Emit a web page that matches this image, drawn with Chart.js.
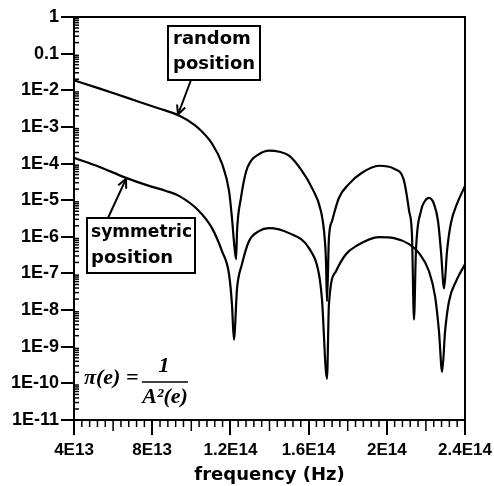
<!DOCTYPE html>
<html>
<head>
<meta charset="utf-8">
<script src="https://cdn.jsdelivr.net/npm/chart.js@4/dist/chart.umd.min.js"></script>
<style>
  html, body { margin: 0; padding: 0; background: #fff; }
  #c { display: block; }
</style>
</head>
<body>
<canvas id="c" width="494" height="486"></canvas>
<script>
// ---- data ----
const randomFreq = [4.00e13, 5.28e13, 6.81e13, 8.35e13, 9.37e13, 10.14e13, 10.50e13, 11.06e13, 11.57e13, 11.93e13,
  12.08e13, 12.18e13, 12.29e13, 12.34e13, 12.54e13, 12.80e13, 13.06e13, 13.46e13, 13.97e13, 14.50e13, 15.00e13, 15.66e13,
  16.17e13, 16.63e13, 16.79e13, 16.89e13, 16.94e13, 17.04e13, 17.20e13, 17.55e13, 18.07e13, 18.73e13,
  19.60e13, 20.37e13, 20.88e13, 21.14e13, 21.29e13, 21.39e13, 21.49e13, 21.75e13, 21.95e13, 22.16e13,
  22.41e13, 22.62e13, 22.77e13, 22.93e13, 23.08e13, 23.28e13, 23.59e13, 24.00e13];
const randomValues = [1.87e-2, 1.13e-2, 6.0e-3, 3.19e-3, 2.05e-3, 1.16e-3, 7.9e-4, 3.49e-4, 9.9e-5, 1.79e-5,
  3.26e-6, 7.6e-7, 2.44e-7, 1.43e-6, 1.15e-5, 6.0e-5, 1.2e-4, 1.8e-4, 2.24e-4, 2.1e-4, 1.64e-4, 6.3e-5,
  2.17e-5, 5.1e-6, 1.43e-6, 2.15e-7, 1.72e-8, 9.2e-7, 2.7e-6, 1.15e-5, 2.79e-5, 5.6e-5,
  8.7e-5, 7.2e-5, 3.37e-5, 5.1e-6, 1.05e-6, 5.5e-9, 4.05e-7, 5.1e-6, 9.5e-6, 1.15e-5,
  7.9e-6, 2.7e-6, 4.05e-7, 3.9e-8, 4.05e-7, 2.38e-6, 7.9e-6, 2.46e-5];

const symFreq = [4.00e13, 5.28e13, 6.66e13, 7.84e13, 8.71e13, 9.37e13, 10.39e13, 11.06e13, 11.57e13, 11.93e13,
  12.08e13, 12.18e13, 12.34e13, 12.59e13, 12.95e13, 13.46e13, 13.97e13, 15.00e13, 16.02e13, 16.53e13,
  16.68e13, 16.94e13, 17.04e13, 17.40e13, 17.91e13, 18.43e13, 19.60e13, 20.37e13, 21.14e13, 21.65e13,
  22.16e13, 22.47e13, 22.67e13, 22.83e13, 22.98e13, 23.18e13, 23.54e13, 24.00e13];
const symValues = [1.44e-4, 8.2e-5, 4.07e-5, 2.46e-5, 1.79e-5, 1.31e-5, 5.1e-6, 1.73e-6, 4.05e-7, 9.5e-8,
  1.43e-8, 1.56e-9, 3.9e-8, 1.78e-7, 7.6e-7, 1.43e-6, 1.73e-6, 1.26e-6, 4.9e-7, 9.5e-8,
  2.08e-8, 1.33e-10, 1.43e-8, 1.15e-7, 3.35e-7, 5.6e-7, 9.8e-7, 9.2e-7, 6.3e-7, 3.57e-7,
  1.15e-7, 2.36e-8, 2.59e-9, 2.07e-10, 2.59e-9, 1.72e-8, 6.1e-8, 1.78e-7];

const xTickValues = [4e13, 8e13, 1.2e14, 1.6e14, 2e14, 2.4e14];
const xTickLabels = ["4E13", "8E13", "1.2E14", "1.6E14", "2E14", "2.4E14"];
const yTickValues = [1, 0.1, 1e-2, 1e-3, 1e-4, 1e-5, 1e-6, 1e-7, 1e-8, 1e-9, 1e-10, 1e-11];
const yTickLabels = ["1", "0.1", "1E-2", "1E-3", "1E-4", "1E-5", "1E-6", "1E-7", "1E-8", "1E-9", "1E-10", "1E-11"];
const xTitle = "frequency (Hz)";
const randomLabel = ["random", "position"];
const symLabel = ["symmetric", "position"];
// arrows point at these curve samples (indices into the series above)
const randomArrowIdx = 4;
const symArrowIdx = 2;

const toPts = (xs, ys) => xs.map((x, i) => ({ x: x, y: ys[i] }));

function lookup(vals, labels, v, log) {
  for (let i = 0; i < vals.length; i++) {
    const a = log ? Math.log10(vals[i]) : vals[i] / 1e13;
    const b = log ? Math.log10(v) : v / 1e13;
    if (Math.abs(a - b) < 1e-6) return labels[i];
  }
  return '';
}

const X_FONT = { family: "'Liberation Sans', Arial, sans-serif", size: 17, weight: 'bold' };
const Y_FONT = { family: "'Liberation Sans', Arial, sans-serif", size: 18, weight: 'bold' };

function arrow(ctx, x1, y1, x2, y2) {
  ctx.beginPath();
  ctx.moveTo(x1, y1);
  ctx.lineTo(x2, y2);
  ctx.stroke();
  const ang = Math.atan2(y2 - y1, x2 - x1);
  const L = 10, W = 0.45;
  ctx.beginPath();
  ctx.moveTo(x2 - L * Math.cos(ang - W), y2 - L * Math.sin(ang - W));
  ctx.lineTo(x2, y2);
  ctx.lineTo(x2 - L * Math.cos(ang + W), y2 - L * Math.sin(ang + W));
  ctx.stroke();
}

const decor = {
  id: 'decor',
  afterDraw(chart) {
    const ctx = chart.ctx;
    const a = chart.chartArea;
    const xs = chart.scales.x, ys = chart.scales.y;
    ctx.save();
    ctx.strokeStyle = '#000';
    ctx.fillStyle = '#000';
    // frame
    ctx.lineWidth = 2;
    ctx.strokeRect(a.left, a.top, a.right - a.left, a.bottom - a.top);
    // y minor ticks (log 2..9)
    ctx.lineWidth = 1.5;
    for (let d = -11; d < 0; d++) {
      for (let k = 2; k <= 9; k++) {
        const y = ys.getPixelForValue(k * Math.pow(10, d));
        ctx.beginPath();
        ctx.moveTo(a.left - 1, y);
        ctx.lineTo(a.left + 5, y);
        ctx.stroke();
      }
    }
    // x minor ticks
    for (let i = 1; i < 50; i++) {
      if (i % 10 === 0) continue;
      const f = 4e13 + i * 4e12;
      const x = xs.getPixelForValue(f);
      const len = (i % 5 === 0) ? 11 : 7;
      ctx.beginPath();
      ctx.moveTo(x, a.bottom);
      ctx.lineTo(x, a.bottom + len);
      ctx.stroke();
    }
    // label boxes
    ctx.lineWidth = 2;
    ctx.font = "bold 18px 'DejaVu Sans', sans-serif";
    ctx.textBaseline = 'middle';
    ctx.textAlign = 'left';
    ctx.strokeRect(168, 26, 92, 54);
    ctx.fillText(randomLabel[0], 173, 39, 84);
    ctx.fillText(randomLabel[1], 173, 64, 84);
    ctx.strokeRect(87, 218, 108, 55);
    ctx.fillText(symLabel[0], 91, 232, 101);
    ctx.fillText(symLabel[1], 91, 258, 101);
    // arrows to the curves
    const rx = xs.getPixelForValue(randomFreq[randomArrowIdx]);
    const ry = ys.getPixelForValue(randomValues[randomArrowIdx]);
    arrow(ctx, 191, 80, rx - 1, ry - 1);
    const sx = xs.getPixelForValue(symFreq[symArrowIdx]);
    const sy = ys.getPixelForValue(symValues[symArrowIdx]);
    arrow(ctx, 108, 218, sx, sy + 1);
    // formula
    ctx.font = "bold italic 22px 'Liberation Serif', serif";
    ctx.textAlign = 'left';
    ctx.fillText('\u03c0(e) =', 84, 378);
    ctx.textAlign = 'center';
    ctx.fillText('1', 164, 366);
    ctx.fillText('A\u00b2(e)', 165, 397);
    ctx.lineWidth = 1.5;
    ctx.beginPath();
    ctx.moveTo(142, 382);
    ctx.lineTo(188, 382);
    ctx.stroke();
    ctx.restore();
  }
};

new Chart(document.getElementById('c'), {
  type: 'line',
  data: {
    datasets: [
      { label: 'random position', data: toPts(randomFreq, randomValues), borderColor: '#000', borderWidth: 2.2,
        pointRadius: 0, fill: false, cubicInterpolationMode: 'monotone' },
      { label: 'symmetric position', data: toPts(symFreq, symValues), borderColor: '#000', borderWidth: 2.2,
        pointRadius: 0, fill: false, cubicInterpolationMode: 'monotone' }
    ]
  },
  options: {
    responsive: false,
    devicePixelRatio: 1,
    animation: false,
    layout: { padding: { top: 17, right: 29, left: 0, bottom: 0 } },
    plugins: { legend: { display: false }, tooltip: { enabled: false } },
    scales: {
      x: {
        type: 'linear', min: 4e13, max: 2.4e14,
        afterBuildTicks: s => { s.ticks = xTickValues.map(v => ({ value: v })); },
        afterFit: s => { s.height = 66; s.paddingLeft = 0; s.paddingRight = 0; },
        ticks: { autoSkip: false, maxRotation: 0, color: '#000', font: X_FONT, padding: 5,
          callback: v => lookup(xTickValues, xTickLabels, v, false) },
        grid: { display: true, drawOnChartArea: false, drawTicks: true, tickLength: 15, color: '#000', lineWidth: 2 },
        border: { display: true, color: '#000', width: 2 },
        title: { display: true, text: xTitle, color: '#000',
          font: { family: "'DejaVu Sans', sans-serif", size: 18, weight: 'bold' }, padding: { top: 0, bottom: 0 } }
      },
      y: {
        type: 'logarithmic', min: 1e-11, max: 1,
        afterBuildTicks: s => { s.ticks = yTickValues.map(v => ({ value: v })); },
        afterFit: s => { s.width = 74; s.paddingTop = 0; s.paddingBottom = 0; },
        ticks: { autoSkip: false, color: '#000', font: Y_FONT, padding: 2,
          callback: v => lookup(yTickValues, yTickLabels, v, true) },
        grid: { display: true, drawOnChartArea: false, drawTicks: true, tickLength: 13, color: '#000', lineWidth: 2 },
        border: { display: true, color: '#000', width: 2 }
      }
    }
  },
  plugins: [decor]
});
</script>
</body>
</html>
